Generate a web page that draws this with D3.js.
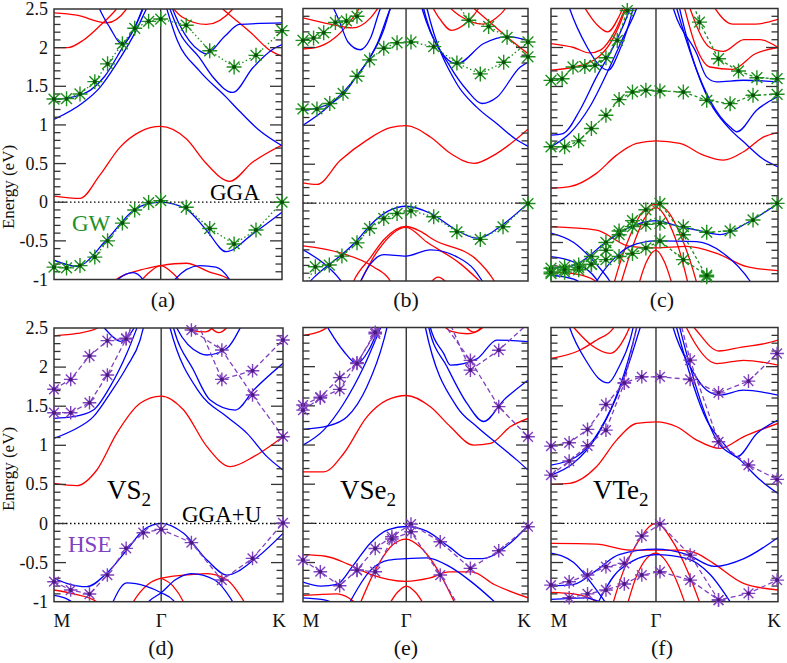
<!DOCTYPE html>
<html><head><meta charset="utf-8">
<script src="https://cdn.jsdelivr.net/npm/d3@7"></script>
<style>body{margin:0;background:#fff}svg{display:block}
svg text{font-family:"Liberation Serif",Tinos,"Times New Roman",Times,"Noto Serif","DejaVu Serif",FreeSerif,serif !important}</style>
</head><body>
<svg id="chart" width="787" height="663"></svg>
<script>
// ---------- data (k: 0 = M, 1 = K, energies in eV) ----------
const kLabels = ["M","Γ","K"];
const eTicks = [2.5,2,1.5,1,0.5,0,-0.5,-1];
const eTickLabels = ["2.5","2","1.5","1","0.5","0","-0.5","-1"];

const aRed = [
 [[0,0.08],[0.114,0.05],[0.201,0.35],[0.289,0.71],[0.376,0.91],[0.468,0.98],[0.58,0.82],[0.668,0.5],[0.77,0.27],[0.872,0.52],[1,0.74]],
 [[0.25,-1.1],[0.274,-1.0],[0.376,-0.88],[0.468,-0.82],[0.58,-0.79],[0.68,-0.9],[0.77,-1.0],[0.8,-1.08]],
 [[0.36,-1.1],[0.41,-0.93],[0.468,-0.82],[0.525,-0.93],[0.575,-1.1]],
 [[0,2.45],[0.1,2.42],[0.23,2.32],[0.318,2.5],[0.34,2.6]],
 [[0,2.0],[0.06,2.0],[0.13,2.1],[0.2,2.28],[0.274,2.5],[0.3,2.6]],
 [[0.5,2.6],[0.56,2.4],[0.668,2.3],[0.784,2.5],[0.8,2.6]],
 [[0.7,2.6],[0.78,2.4],[0.872,2.17],[0.94,1.98],[1,1.89]]
];
const aBlue = [
 [[0,-0.75],[0.1,-0.83],[0.23,-0.49],[0.347,-0.11],[0.41,-0.02],[0.468,0.0],[0.58,-0.09],[0.668,-0.36],[0.755,-0.64],[0.872,-0.41],[1,-0.13]],
 [[0.26,-1.1],[0.28,-1.0],[0.347,-0.91],[0.39,-1.0],[0.41,-1.1]],
 [[0.51,-1.1],[0.53,-1.0],[0.64,-0.82],[0.71,-0.84],[0.77,-1.0],[0.79,-1.1]],
 [[0,1.07],[0.128,1.29],[0.2,1.48],[0.274,1.79],[0.36,2.22],[0.405,2.5],[0.43,2.65]],
 [[0,1.33],[0.08,1.36],[0.16,1.45],[0.22,1.62],[0.3,2.0],[0.36,2.3],[0.4,2.6]],
 [[0.18,2.65],[0.2,2.5],[0.245,2.26],[0.3,2.04],[0.347,2.22],[0.39,2.5],[0.41,2.65]],
 [[0.5,2.65],[0.55,2.3],[0.638,1.96],[0.668,1.92],[0.75,2.15],[0.813,2.3],[1,2.32]],
 [[0.49,2.65],[0.55,2.2],[0.638,1.87],[0.697,1.62],[0.784,1.42],[0.872,1.74],[0.96,1.98],[1,2.04]],
 [[0.48,2.65],[0.54,2.1],[0.638,1.7],[0.755,1.36],[0.813,1.18],[0.9,0.93],[1,0.73]]
];
const aGW = [
 [[0,1.335],[0.055,1.34],[0.114,1.4],[0.179,1.56],[0.235,1.79],[0.3,2.05],[0.354,2.25],[0.415,2.34],[0.468,2.37],[0.58,2.29],[0.683,1.96],[0.79,1.75],[0.886,1.9],[1,2.22]],
 [[0,-0.84],[0.055,-0.85],[0.114,-0.82],[0.179,-0.71],[0.235,-0.5],[0.3,-0.27],[0.354,-0.1],[0.415,-0.005],[0.468,0.02],[0.58,-0.065],[0.683,-0.34],[0.79,-0.54],[0.886,-0.36],[1,0.0]]
];

const bRed = [
 [[0,0.26],[0.062,0.24],[0.166,0.55],[0.284,0.81],[0.388,0.97],[0.458,0.995],[0.566,0.85],[0.655,0.64],[0.759,0.51],[0.862,0.64],[1,0.95]],
 [[0,-0.55],[0.166,-0.64],[0.314,-0.82],[0.388,-1.0],[0.4,-1.1]],
 [[0.21,-1.1],[0.225,-1.0],[0.3,-0.7],[0.359,-0.47],[0.458,-0.3],[0.52,-0.36],[0.581,-0.47],[0.773,-0.73],[0.85,-1.0],[0.87,-1.1]],
 [[0.24,-1.1],[0.33,-0.62],[0.458,-0.31],[0.55,-0.5],[0.7,-0.78],[0.82,-1.1]],
 [[0.55,-1.1],[0.6,-0.95],[0.66,-1.1]],
 [[0,2.38],[0.12,2.3],[0.22,2.25],[0.3,2.38],[0.344,2.55]],
 [[0,1.98],[0.06,2.0],[0.14,2.12],[0.2,2.3],[0.25,2.5],[0.27,2.6]],
 [[0.56,2.6],[0.6,2.4],[0.66,2.22],[0.72,2.3],[0.78,2.5],[0.8,2.6]],
 [[0.62,2.6],[0.7,2.4],[0.8,2.3],[0.86,2.38],[0.9,2.5],[0.92,2.6]],
 [[0.72,2.6],[0.8,2.4],[0.9,2.15],[1,1.92]]
];
const bBlue = [
 [[0,1.0],[0.092,1.19],[0.18,1.43],[0.27,1.75],[0.33,2.05],[0.388,2.5],[0.42,2.7]],
 [[0,1.19],[0.121,1.28],[0.18,1.4],[0.24,1.64],[0.3,1.88],[0.358,2.22],[0.388,2.5],[0.41,2.7]],
 [[0.12,2.6],[0.16,2.35],[0.2,2.07],[0.255,1.97],[0.3,2.12],[0.344,2.5],[0.36,2.6]],
 [[0.51,2.7],[0.529,2.5],[0.61,1.96],[0.684,1.79],[0.803,2.05],[0.907,2.14],[1,2.09]],
 [[0.52,2.7],[0.536,2.5],[0.655,1.75],[0.729,1.45],[0.796,1.28],[0.862,1.36],[0.966,1.75],[1,1.81]],
 [[0.535,2.7],[0.551,2.5],[0.684,1.53],[0.773,1.23],[0.862,1.02],[0.951,0.81],[1,0.73]],
 [[0,-1.1],[0.05,-0.95],[0.11,-0.8],[0.173,-0.66],[0.24,-0.48],[0.3,-0.28],[0.38,-0.1],[0.458,-0.04],[0.566,-0.13],[0.684,-0.35],[0.773,-0.45],[0.89,-0.27],[1,0.0]],
 [[0,-0.6],[0.09,-0.77],[0.166,-0.99],[0.19,-1.1]],
 [[0.24,-1.1],[0.3,-0.78],[0.36,-0.66],[0.458,-0.68],[0.566,-0.6],[0.684,-0.69],[0.76,-0.85],[0.818,-1.1]]
];
const bGW = [
 [[0,1.21],[0.062,1.21],[0.119,1.28],[0.178,1.41],[0.24,1.63],[0.296,1.84],[0.359,1.99],[0.418,2.06],[0.48,2.07],[0.581,2.01],[0.684,1.8],[0.788,1.66],[0.892,1.81],[1,2.07]],
 [[0,2.09],[0.047,2.12],[0.092,2.19],[0.144,2.32],[0.193,2.34],[0.24,2.4],[0.29,2.7]],
 [[0.65,2.7],[0.737,2.35],[0.825,2.27],[0.907,2.13],[1,1.88]],
 [[0,-1.1],[0.055,-0.817],[0.117,-0.795],[0.173,-0.68],[0.24,-0.51],[0.296,-0.325],[0.359,-0.197],[0.418,-0.133],[0.48,-0.099],[0.581,-0.175],[0.684,-0.368],[0.788,-0.466],[0.889,-0.304],[1,-0.005]]
];

const cRed = [
 [[0,0.194],[0.082,0.215],[0.2,0.386],[0.289,0.62],[0.377,0.77],[0.4625,0.803],[0.568,0.77],[0.672,0.62],[0.76,0.556],[0.848,0.663],[0.937,0.854],[1,0.91]],
 [[0,-0.297],[0.2,-0.34],[0.348,-0.55],[0.4625,-0.57],[0.598,-0.55],[0.73,-0.64],[0.863,-0.81],[1,-0.86]],
 [[0.27,-1.1],[0.3,-0.8],[0.35,-0.4],[0.4,-0.12],[0.4625,-0.01],[0.52,-0.12],[0.57,-0.4],[0.62,-0.8],[0.65,-1.1]],
 [[0.3,-1.1],[0.36,-0.55],[0.41,-0.2],[0.4625,-0.05],[0.51,-0.2],[0.56,-0.55],[0.61,-1.1]],
 [[0.38,-1.1],[0.42,-0.75],[0.4625,-0.6],[0.5,-0.75],[0.54,-1.1]],
 [[0,-0.88],[0.1,-0.9],[0.2,-1.0],[0.22,-1.05]],
 [[0,2.05],[0.1,2.0],[0.17,1.93],[0.22,1.97],[0.28,2.2],[0.34,2.6]],
 [[0,1.71],[0.1,1.75],[0.2,1.86],[0.26,2.05],[0.31,2.35],[0.34,2.6]],
 [[0.13,2.6],[0.2,2.3],[0.25,2.2],[0.3,2.4],[0.33,2.6]],
 [[0.58,2.6],[0.64,2.0],[0.7,1.75],[0.8,1.72],[0.9,1.92],[1,2.0]],
 [[0.6,2.6],[0.7,2.0],[0.76,1.95],[0.85,2.1],[0.92,2.1],[1,2.0]],
 [[0.7,2.6],[0.8,2.3],[0.9,2.3],[1,2.36]]
];
const cBlue = [
 [[0,0.876],[0.053,0.897],[0.127,1.196],[0.2,1.62],[0.274,2.005],[0.348,2.5],[0.37,2.7]],
 [[0,0.727],[0.082,0.897],[0.171,1.24],[0.259,1.75],[0.318,2.13],[0.377,2.5],[0.4,2.7]],
 [[0.06,2.7],[0.082,2.5],[0.16,2.0],[0.21,1.78],[0.252,1.71],[0.3,1.95],[0.348,2.35],[0.37,2.6]],
 [[0.52,2.7],[0.539,2.5],[0.642,1.92],[0.686,1.62],[0.73,1.56],[0.848,1.58],[1,1.56]],
 [[0.535,2.7],[0.554,2.5],[0.701,1.32],[0.789,0.98],[0.819,0.92],[0.907,1.2],[1,1.37]],
 [[0.55,2.7],[0.62,1.9],[0.7,1.3],[0.78,0.98],[0.86,0.76],[0.93,0.58],[1,0.47]],
 [[0,-0.83],[0.08,-0.81],[0.13,-0.75],[0.24,-0.5],[0.35,-0.3],[0.4625,-0.22],[0.57,-0.3],[0.642,-0.34],[0.745,-0.4],[0.863,-0.25],[1,0.0]],
 [[0,-0.38],[0.1,-0.5],[0.2,-0.78],[0.26,-1.0],[0.28,-1.1]],
 [[0.18,-1.1],[0.2,-1.0],[0.28,-0.7],[0.348,-0.55],[0.4625,-0.48],[0.642,-0.49],[0.76,-0.64],[0.878,-1.0],[0.9,-1.1]],
 [[0,-0.68],[0.1,-0.75],[0.18,-0.9],[0.22,-1.05]],
 [[0,-0.92],[0.1,-0.97],[0.15,-1.05]]
];
const cGW = [
 [[0,0.727],[0.06,0.727],[0.122,0.803],[0.178,0.961],[0.242,1.132],[0.3,1.332],[0.359,1.43],[0.418,1.451],[0.48,1.443],[0.583,1.43],[0.686,1.323],[0.789,1.28],[0.89,1.387],[0.996,1.4]],
 [[0,1.579],[0.049,1.6],[0.097,1.75],[0.149,1.758],[0.194,1.771],[0.242,1.869],[0.292,2.09],[0.336,2.474],[0.37,2.8]],
 [[0.6,2.8],[0.654,2.325],[0.738,1.856],[0.826,1.699],[0.907,1.613],[0.996,1.6]],
 [[0,-0.83],[0.06,-0.808],[0.122,-0.787],[0.178,-0.68],[0.242,-0.5],[0.3,-0.352],[0.359,-0.297],[0.418,-0.267],[0.48,-0.254],[0.583,-0.297],[0.686,-0.369],[0.789,-0.352],[0.89,-0.211],[0.996,0.002]],
 [[0,-0.9],[0.06,-0.88],[0.122,-0.85],[0.178,-0.78],[0.242,-0.6],[0.3,-0.4],[0.359,-0.22],[0.418,-0.08],[0.48,0.0],[0.583,-0.4],[0.686,-0.94]],
 [[0,-0.88],[0.06,-0.85],[0.122,-0.82],[0.178,-0.78],[0.242,-0.72],[0.3,-0.68],[0.359,-0.64],[0.418,-0.57],[0.48,-0.48],[0.583,-0.72],[0.686,-0.92]]
];

const dRed = [
 [[0,0.513],[0.099,0.484],[0.187,0.684],[0.274,1.153],[0.376,1.537],[0.468,1.63],[0.566,1.451],[0.668,0.982],[0.77,0.727],[0.872,0.855],[1,1.11]],
 [[0,-0.85],[0.085,-0.9],[0.187,-1.0],[0.21,-1.05]],
 [[0.32,-1.15],[0.347,-1.0],[0.41,-0.78],[0.468,-0.7],[0.566,-0.66],[0.668,-0.64],[0.755,-0.72],[0.83,-1.0],[0.85,-1.1]],
 [[0.468,-0.7],[0.52,-0.8],[0.565,-1.0],[0.58,-1.1]],
 [[0,2.4],[0.1,2.43],[0.19,2.5],[0.22,2.6]],
 [[0.55,2.6],[0.6,2.47],[0.66,2.45],[0.72,2.6]],
 [[0.66,2.6],[0.72,2.44],[0.78,2.6]]
];
const dBlue = [
 [[0,1.089],[0.085,1.196],[0.172,1.366],[0.245,1.664],[0.318,2.005],[0.376,2.347],[0.39,2.5],[0.4,2.6]],
 [[0,1.345],[0.085,1.366],[0.172,1.451],[0.245,1.75],[0.318,2.176],[0.362,2.5],[0.375,2.6]],
 [[0.19,2.6],[0.22,2.5],[0.26,2.38],[0.29,2.33],[0.32,2.38],[0.36,2.55]],
 [[0.52,2.6],[0.536,2.5],[0.638,2.176],[0.668,2.155],[0.755,2.24],[0.813,2.5],[0.83,2.6]],
 [[0.505,2.7],[0.522,2.5],[0.609,1.963],[0.682,1.579],[0.792,1.451],[0.872,1.707],[1,2.048]],
 [[0.49,2.7],[0.507,2.5],[0.638,1.664],[0.755,1.366],[0.843,1.153],[0.93,0.855],[1,0.684]],
 [[0,-0.701],[0.055,-0.765],[0.143,-0.808],[0.23,-0.637],[0.318,-0.339],[0.391,-0.083],[0.468,0.002],[0.566,-0.126],[0.668,-0.467],[0.755,-0.659],[0.872,-0.467],[1,-0.126]],
 [[0.25,-1.05],[0.318,-0.76],[0.4,-0.8],[0.468,-0.885],[0.52,-0.98],[0.55,-1.1]],
 [[0.38,-1.1],[0.42,-0.98],[0.468,-0.885],[0.53,-0.72],[0.6,-0.64],[0.7,-0.72],[0.78,-1.0],[0.8,-1.1]],
 [[0,-0.92],[0.06,-0.97],[0.1,-1.05]]
];
const dHSE = [
 [[0,1.716],[0.073,1.843],[0.155,2.142],[0.233,2.338],[0.315,2.368],[0.39,2.8]],
 [[0,1.417],[0.073,1.417],[0.155,1.545],[0.233,1.899],[0.315,2.36],[0.39,2.9]],
 [[0.468,2.9],[0.6,2.474],[0.733,2.219],[0.867,1.643],[1,1.11]],
 [[0.6,2.75],[0.733,1.843],[0.867,1.954],[1,2.347]],
 [[0,-0.744],[0.073,-0.851],[0.155,-0.902],[0.233,-0.659],[0.315,-0.318],[0.39,-0.118],[0.468,-0.075],[0.6,-0.245],[0.733,-0.723],[0.867,-0.446],[1,0.007]]
];

const eRed = [
 [[0,0.658],[0.092,0.658],[0.181,0.892],[0.284,1.36],[0.373,1.573],[0.459,1.632],[0.566,1.488],[0.655,1.233],[0.759,0.999],[0.833,1.02],[0.921,1.233],[1,1.339]],
 [[0,-0.4],[0.1,-0.42],[0.2,-0.52],[0.3,-0.65],[0.459,-0.74],[0.56,-0.7],[0.65,-0.62],[0.75,-0.62],[0.85,-0.78],[1,-0.95]],
 [[0.25,-1.05],[0.33,-0.55],[0.4,-0.27],[0.459,-0.2],[0.52,-0.3],[0.6,-0.6],[0.68,-1.05]],
 [[0.37,-1.1],[0.42,-0.88],[0.459,-0.8],[0.5,-0.88],[0.55,-1.1]],
 [[0,-0.92],[0.15,-0.9],[0.25,-1.05]],
 [[0,2.4],[0.09,2.47],[0.13,2.55]],
 [[0.6,2.6],[0.66,2.45],[0.73,2.42],[0.8,2.5],[0.83,2.6]],
 [[0.7,2.6],[0.76,2.44],[0.82,2.6]]
];
const eBlue = [
 [[0,0.999],[0.092,1.19],[0.181,1.53],[0.27,1.998],[0.344,2.49],[0.36,2.6]],
 [[0,1.2],[0.107,1.24],[0.196,1.36],[0.284,1.743],[0.359,2.338],[0.373,2.5],[0.38,2.6]],
 [[0.09,2.6],[0.12,2.45],[0.18,2.2],[0.24,2.04],[0.29,2.2],[0.33,2.45],[0.35,2.6]],
 [[0.55,2.7],[0.566,2.5],[0.625,2.17],[0.655,2.02],[0.773,2.1],[0.862,2.34],[1,2.32]],
 [[0.545,2.7],[0.559,2.5],[0.64,2.0],[0.729,1.53],[0.803,1.3],[0.892,1.573],[1,1.828]],
 [[0.53,2.7],[0.544,2.5],[0.684,1.488],[0.773,1.233],[0.862,1.02],[0.951,0.807],[1,0.68]],
 [[0,-0.75],[0.08,-0.8],[0.15,-0.78],[0.22,-0.55],[0.3,-0.25],[0.38,-0.08],[0.459,-0.04],[0.55,-0.1],[0.65,-0.3],[0.73,-0.45],[0.8,-0.45],[0.9,-0.3],[1,-0.03]],
 [[0.2,-1.05],[0.3,-0.6],[0.38,-0.47],[0.459,-0.45],[0.55,-0.44],[0.65,-0.55],[0.75,-0.75],[0.87,-1.05]],
 [[0,-0.95],[0.1,-0.98],[0.16,-1.05]]
];
const eHSE = [
 [[0,1.51],[0.077,1.61],[0.163,1.86],[0.24,2.05],[0.321,2.42],[0.4,2.9]],
 [[0,1.445],[0.077,1.6],[0.163,1.71],[0.24,2.04],[0.321,2.44],[0.4,2.9]],
 [[0.6,2.65],[0.744,2.08],[0.87,1.49],[1,1.105]],
 [[0.6,2.9],[0.744,1.956],[0.87,2.21],[1,2.55]],
 [[0,-0.469],[0.077,-0.617],[0.163,-0.796],[0.24,-0.596],[0.321,-0.32],[0.395,-0.17],[0.48,-0.009],[0.61,-0.235],[0.744,-0.575],[0.87,-0.35],[1,-0.043]],
 [[0.24,-0.6],[0.321,-0.617],[0.395,-0.2],[0.48,-0.107],[0.61,-0.66],[0.7,-1.1]]
];

const fRed = [
 [[0,0.497],[0.082,0.51],[0.2,0.722],[0.289,1.063],[0.377,1.275],[0.4625,1.296],[0.554,1.233],[0.642,1.063],[0.745,0.956],[0.848,1.105],[1,1.275]],
 [[0,-0.256],[0.2,-0.264],[0.348,-0.341],[0.4625,-0.341],[0.568,-0.341],[0.642,-0.383],[0.716,-0.511],[0.848,-0.766],[1,-0.851]],
 [[0.27,-1.05],[0.32,-0.6],[0.38,-0.25],[0.4625,0.0],[0.54,-0.25],[0.6,-0.6],[0.66,-1.05]],
 [[0.33,-1.1],[0.38,-0.65],[0.4625,-0.38],[0.54,-0.65],[0.6,-1.1]],
 [[0,-0.88],[0.1,-0.9],[0.2,-1.0],[0.22,-1.05]],
 [[0,2.104],[0.127,2.21],[0.2,2.338],[0.274,2.49],[0.29,2.6]],
 [[0.07,2.6],[0.1,2.5],[0.18,2.27],[0.26,2.17],[0.33,2.4],[0.36,2.6]],
 [[0.58,2.6],[0.598,2.49],[0.73,2.04],[0.848,2.08],[1,2.02]],
 [[0.6,2.6],[0.63,2.5],[0.74,2.2],[0.84,2.25],[0.95,2.3],[1,2.34]]
];
const fBlue = [
 [[0,0.616],[0.097,0.765],[0.2,1.105],[0.289,1.615],[0.348,2.083],[0.392,2.49],[0.41,2.65]],
 [[0,0.744],[0.112,0.85],[0.215,1.19],[0.303,1.743],[0.377,2.49],[0.39,2.65]],
 [[0.06,2.7],[0.082,2.5],[0.16,2.05],[0.21,1.85],[0.252,1.794],[0.3,2.0],[0.348,2.338],[0.37,2.6]],
 [[0.52,2.7],[0.539,2.49],[0.613,1.998],[0.686,1.7],[0.745,1.637],[0.848,1.7],[1,1.637]],
 [[0.535,2.7],[0.554,2.49],[0.686,1.318],[0.76,1.02],[0.819,0.85],[0.907,1.148],[1,1.318]],
 [[0.55,2.7],[0.568,2.49],[0.73,1.063],[0.834,0.807],[0.922,0.552],[1,0.382]],
 [[0,-0.8],[0.1,-0.78],[0.2,-0.6],[0.3,-0.4],[0.4625,-0.33],[0.6,-0.4],[0.72,-0.55],[0.85,-0.45],[1,-0.18]],
 [[0.2,-1.05],[0.3,-0.6],[0.4625,-0.4],[0.6,-0.45],[0.7,-0.65],[0.8,-1.05]],
 [[0,-0.38],[0.1,-0.5],[0.2,-0.85],[0.25,-1.05]],
 [[0,-0.97],[0.15,-0.95],[0.25,-1.05]]
];
const fHSE = [
 [[0,0.986],[0.08,1.028],[0.161,1.199],[0.242,1.518],[0.323,1.794],[0.4,1.871],[0.48,1.871],[0.613,1.837],[0.738,1.666],[0.87,1.815],[0.996,2.168]],
 [[0,0.616],[0.08,0.795],[0.161,0.99],[0.242,1.19],[0.323,1.79],[0.4,2.8]],
 [[0.55,2.8],[0.613,2.083],[0.738,1.041],[0.87,0.744],[0.996,0.561]],
 [[0,-0.788],[0.08,-0.745],[0.161,-0.66],[0.242,-0.554],[0.323,-0.511],[0.4,-0.162],[0.48,-0.009],[0.613,-0.405],[0.738,-0.979],[0.87,-0.894],[0.996,-0.724]],
 [[0.08,-0.95],[0.161,-0.9],[0.242,-0.85],[0.323,-0.775],[0.4,-0.66],[0.48,-0.617],[0.613,-0.724],[0.738,-0.979]]
];

// ---------- layout ----------
const GREEN = "#1f8f1f", GREEN_D = "#0b4f0b", PURPLE = "#8040c0", PURPLE_D = "#4a1a80";
const layout = [
 {x0:54, x1:282, y0:9,   y1:279.5, g:0.468, red:aRed, blue:aBlue, st:aGW, col:GREEN, dot:GREEN_D, dash:"1.5,2.5", lab:"(a)", lx:163, ly:307, yl:true,  ey:187, kl:false},
 {x0:303,x1:528, y0:8.5, y1:281,   g:0.458, red:bRed, blue:bBlue, st:bGW, col:GREEN, dot:GREEN_D, dash:"1.5,2.5", lab:"(b)", lx:406, ly:307, yl:false, kl:false},
 {x0:551,x1:778, y0:8.5, y1:281.5, g:0.4625,red:cRed, blue:cBlue, st:cGW, col:GREEN, dot:GREEN_D, dash:"3,2.5",   lab:"(c)", lx:662, ly:307, yl:false, kl:false},
 {x0:54, x1:283, y0:328, y1:601.7, g:0.468, red:dRed, blue:dBlue, st:dHSE,col:PURPLE,dot:PURPLE_D,dash:"5,3",     lab:"(d)", lx:161, ly:655, yl:true,  ey:469, kl:true},
 {x0:303,x1:528, y0:327.5,y1:601.7,g:0.459, red:eRed, blue:eBlue, st:eHSE,col:PURPLE,dot:PURPLE_D,dash:"5,3",     lab:"(e)", lx:406, ly:655, yl:false, kl:true},
 {x0:551,x1:778, y0:327.5,y1:601.7,g:0.4625,red:fRed, blue:fBlue, st:fHSE,col:PURPLE,dot:PURPLE_D,dash:"5,3",     lab:"(f)", lx:662, ly:655, yl:false, kl:true}
];

const svg = d3.select("#chart");
const defs = svg.append("defs");
const AX = "#333";

function starPath(r){
  const d = r*0.72;
  return `M${-r},0H${r}M0,${-r}V${r}M${-d},${-d}L${d},${d}M${-d},${d}L${d},${-d}`;
}

layout.forEach((p,i)=>{
  const x = d3.scaleLinear().domain([0,1]).range([p.x0,p.x1]);
  const y = d3.scaleLinear().domain([-1,2.5]).range([p.y1,p.y0]);
  const cid = "clip"+i;
  defs.append("clipPath").attr("id",cid).append("rect")
    .attr("x",p.x0).attr("y",p.y0).attr("width",p.x1-p.x0).attr("height",p.y1-p.y0);
  const g = svg.append("g");
  g.append("line").attr("x1",x(p.g)).attr("x2",x(p.g)).attr("y1",p.y0).attr("y2",p.y1)
    .attr("stroke",AX).attr("stroke-width",1.4);
  const plot = g.append("g").attr("clip-path",`url(#${cid})`);
  const line = d3.line().x(d=>x(d[0])).y(d=>y(d[1])).curve(d3.curveMonotoneX);

  plot.selectAll(".r").data(p.red).join("path").attr("d",line)
    .attr("fill","none").attr("stroke","#ff0000").attr("stroke-width",1.3);
  plot.selectAll(".b").data(p.blue).join("path").attr("d",line)
    .attr("fill","none").attr("stroke","#0000ff").attr("stroke-width",1.3);
  g.append("line").attr("x1",p.x0).attr("x2",p.x1).attr("y1",y(0)).attr("y2",y(0))
    .attr("stroke","#000").attr("stroke-width",1.3).attr("stroke-dasharray","1.5,2.5");
  const sl = d3.line().x(d=>x(d[0])).y(d=>y(d[1]));
  plot.selectAll(".s").data(p.st).join("path").attr("d",sl)
    .attr("fill","none").attr("stroke",p.col).attr("stroke-width",1.3).attr("stroke-dasharray",p.dash);
  g.append("rect").attr("x",p.x0).attr("y",p.y0).attr("width",p.x1-p.x0).attr("height",p.y1-p.y0)
    .attr("fill","none").attr("stroke",AX).attr("stroke-width",1.5);
  const minor = d3.range(-9,25).map(v=>v/10);
  minor.forEach(v=>{
    const major = Math.abs(v*2-Math.round(v*2))<1e-6;
    const L = major?12:6.5;
    g.append("line").attr("x1",p.x0).attr("x2",p.x0+L).attr("y1",y(v)).attr("y2",y(v)).attr("stroke",AX).attr("stroke-width",1.3);
    g.append("line").attr("x1",p.x1).attr("x2",p.x1-L).attr("y1",y(v)).attr("y2",y(v)).attr("stroke",AX).attr("stroke-width",1.3);
  });
  const pts = p.st.flat().filter(d=>d[1]>=-1.03 && d[1]<=2.53);
  const mk = g.selectAll(".m").data(pts).join("g").attr("transform",d=>`translate(${x(d[0])},${y(d[1])})`);
  mk.append("path").attr("d",starPath(i<3?7.5:6.8)).attr("stroke",p.col).attr("stroke-width",1.4).attr("fill","none");
  mk.append("circle").attr("r",2).attr("fill",p.dot);
  if (p.yl){
    eTicks.forEach((v,j)=>{
      g.append("text").attr("x",48).attr("y",y(v)+6).attr("text-anchor","end")
        .attr("font-size",18).attr("fill","#111").text(eTickLabels[j]);
    });
    g.append("text").attr("transform",`translate(14,${p.ey}) rotate(-90)`)
      .attr("text-anchor","middle").attr("font-size",17).attr("fill","#111").text("Energy (eV)");
  }
  if (p.kl){
    const kp=[0,p.g,1], off=[8,0,-4];
    kLabels.forEach((t,j)=>{
      g.append("text").attr("x",x(kp[j])+off[j]).attr("y",p.y1+25).attr("text-anchor","middle")
        .attr("font-size",19).attr("fill","#111").text(t);
    });
  }
  g.append("text").attr("x",p.lx).attr("y",p.ly).attr("text-anchor","middle")
    .attr("font-size",22).attr("fill","#111").text(p.lab);
});

function txt(xp,yp,s,size,col){ return svg.append("text").attr("x",xp).attr("y",yp).attr("font-size",size).attr("fill",col).text(s); }
txt(210,200,"GGA",23,"#000");
txt(72,231,"GW",23,GREEN);
txt(182,521.5,"GGA+U",23,"#000");
txt(68,552,"HSE",23,PURPLE);
[["VS",107],["VSe",340],["VTe",593]].forEach(([s,xx])=>{
  const t = svg.append("text").attr("x",xx).attr("y",499).attr("font-size",27).attr("fill","#000");
  t.append("tspan").text(s);
  t.append("tspan").attr("font-size",19).attr("dy",7).text("2");
});
</script>
</body></html>
